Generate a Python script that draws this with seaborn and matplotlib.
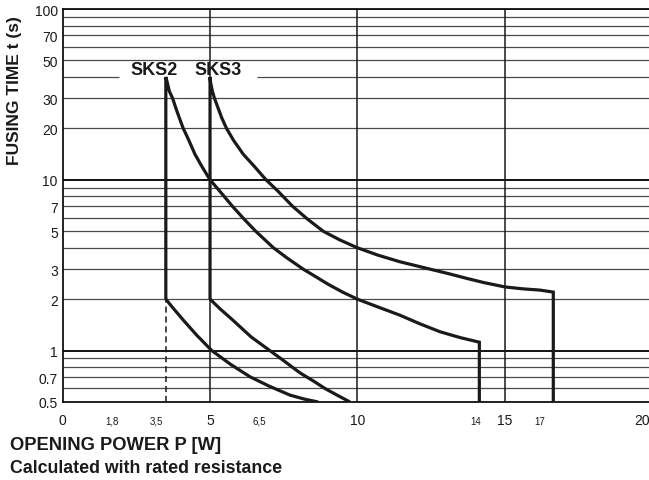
import matplotlib
matplotlib.use("Agg")
import matplotlib.pyplot as plt
from matplotlib.ticker import NullLocator
import numpy as np
import pandas as pd
import seaborn as sns

# ---------------- data ----------------
# SKS2: vertical rise at 3.5 W, upper fusing curve, drop at ~14 W
sks2_outline_p = [3.5, 3.5, 3.55, 3.62, 3.73, 3.85, 3.96, 4.09, 4.25, 4.49, 4.72,
                  5.0, 5.35, 5.76, 6.15, 6.55, 7.15, 7.6, 8.16, 8.6, 9.0, 9.5,
                  10.0, 10.7, 11.45, 12.1, 12.8, 13.5, 14.14, 14.14]
sks2_outline_t = [2.0, 40, 37, 33, 30, 26, 23, 20, 17.5, 14.1, 12,
                  10, 8.5, 7, 5.9, 5, 4, 3.5, 3.0, 2.7, 2.45, 2.2,
                  2.0, 1.8, 1.61, 1.44, 1.29, 1.19, 1.12, 0.5]
# SKS2 lower curve
sks2_lower_p = [3.5, 3.75, 4.09, 4.55, 5.06, 5.7, 6.36, 7.0, 7.71, 8.2, 8.67]
sks2_lower_t = [2.0, 1.77, 1.51, 1.23, 1.0, 0.83, 0.702, 0.62, 0.549, 0.52, 0.5]
# SKS2 dashed line below the knee
sks2_dash_p = [3.5, 3.5]
sks2_dash_t = [0.5, 2.0]

# SKS3: vertical rise at 5 W, upper curve, drop at ~17 W
sks3_outline_p = [5.0, 5.0, 5.02, 5.08, 5.15, 5.25, 5.4, 5.56, 5.8, 6.13, 6.5,
                  6.9, 7.3, 7.8, 8.3, 8.84, 9.4, 10.0, 10.7, 11.45, 12.46,
                  13.1, 13.7, 14.3, 15.0, 15.6, 16.2, 16.65, 16.65]
sks3_outline_t = [2.0, 40, 37, 33, 30, 27, 23, 20, 17, 14.1, 12,
                  10, 8.6, 7, 5.9, 5, 4.45, 4, 3.62, 3.31, 3.0,
                  2.82, 2.65, 2.5, 2.36, 2.3, 2.26, 2.2, 0.5]
# SKS3 lower curve
sks3_lower_p = [5.0, 5.35, 5.77, 6.4, 7.03, 7.55, 8.05, 8.5, 8.9, 9.3, 9.75]
sks3_lower_t = [2.0, 1.75, 1.51, 1.2, 1.0, 0.86, 0.741, 0.665, 0.6, 0.55, 0.5]

# axis ticks / labels
y_tick_vals = [0.5, 0.7, 1, 2, 3, 5, 7, 10, 20, 30, 50, 70, 100]
y_tick_labels = ["0.5", "0.7", "1", "2", "3", "5", "7", "10", "20", "30", "50", "70", "100"]
y_grid_vals = [0.5, 0.6, 0.7, 0.8, 0.9, 1, 2, 3, 4, 5, 6, 7, 8, 9, 10,
               20, 30, 40, 50, 60, 70, 80, 90, 100]
y_grid_strong = [1, 10, 100]
x_grid_vals = [5, 10, 15]
x_tick_pos = [0, 1.67, 3.17, 5, 6.67, 10, 14.0, 15, 16.2, 19.66]
x_tick_labels = ["0", "1,8", "3,5", "5", "6,5", "10", "14", "15", "17", "20"]
x_tick_small = [False, True, True, False, True, False, True, False, True, False]
series_names = ["SKS2", "SKS3"]
name_pos_p = [3.1, 5.27]
name_gap = (1.9, 6.6)   # gap in the 40 s gridline behind the names

# ---------------- style ----------------
sns.set_theme(style="white")
plt.rcParams["font.family"] = ["Liberation Sans", "DejaVu Sans"]

fig = plt.figure(figsize=(6.49, 4.81), dpi=100)
ax = fig.add_axes([62.7 / 649, 78 / 481, (652 - 62.7) / 649, 393 / 481])
ax.set_yscale("log")
ax.set_xlim(0, 20)
ax.set_ylim(0.5, 100)

# gridlines
for v in y_grid_vals:
    strong = v in y_grid_strong
    kw = dict(color="#111111" if strong else "#4a4a4a",
              lw=1.4 if strong else 0.9, zorder=1)
    if v == 40:
        ax.hlines(v, 0, name_gap[0], **kw)
        ax.hlines(v, name_gap[1], 20, **kw)
    else:
        ax.axhline(v, **kw)
for v in x_grid_vals:
    ax.axvline(v, color="#1a1a1a", lw=1.1, zorder=1)

curve_kw = dict(color="#1a1a1a", lw=2.3, sort=False, estimator=None, ax=ax,
                zorder=4)


def draw(p, t, **kw):
    df = pd.DataFrame({"P": p, "t": t})
    sns.lineplot(data=df, x="P", y="t", **kw)


draw(sks2_outline_p, sks2_outline_t, **curve_kw)
draw(sks2_lower_p, sks2_lower_t, **curve_kw)
draw(sks3_outline_p, sks3_outline_t, **curve_kw)
draw(sks3_lower_p, sks3_lower_t, **curve_kw)
draw(sks2_dash_p, sks2_dash_t, color="#1a1a1a", lw=1.1, sort=False,
     estimator=None, ax=ax, zorder=3, linestyle=(0, (4, 2.5)))
for line in ax.lines:
    line.set_solid_joinstyle("miter")
    line.set_solid_capstyle("butt")

# series names
for name, p in zip(series_names, name_pos_p):
    ax.text(p, 41.5, name, ha="center", va="baseline", fontsize=13,
            fontweight="bold", color="#1a1a1a", zorder=5)

# ticks
ax.set_yticks(y_tick_vals)
ax.set_yticklabels(y_tick_labels)
ax.yaxis.set_minor_locator(NullLocator())
ax.tick_params(axis="y", length=0, pad=3.5, labelsize=10, colors="#1a1a1a")

ax.set_xticks(x_tick_pos)
ax.set_xticklabels(x_tick_labels)
ax.tick_params(axis="x", length=0, pad=15.8, colors="#1a1a1a")
for lab, small in zip(ax.get_xticklabels(), x_tick_small):
    lab.set_fontsize(7 if small else 10)
    lab.set_va("baseline")

ax.set_xlabel("")
ax.set_ylabel("")
for s in ax.spines.values():
    s.set_visible(True)
    s.set_color("#111111")
    s.set_linewidth(1.3)

# axis titles
fig.text(15 / 649, 1 - 91 / 481, "FUSING TIME t (s)", rotation=90,
         ha="center", va="center", fontsize=12.5, fontweight="bold",
         color="#1a1a1a")
fig.text(10 / 649, 1 - 450 / 481, "OPENING POWER P [W]", ha="left",
         va="baseline", fontsize=13.2, fontweight="bold", color="#1a1a1a")
fig.text(10 / 649, 1 - 473 / 481, "Calculated with rated resistance",
         ha="left", va="baseline", fontsize=12.8, fontweight="bold",
         color="#1a1a1a")

fig.savefig("out.png", dpi=100, facecolor="white")
